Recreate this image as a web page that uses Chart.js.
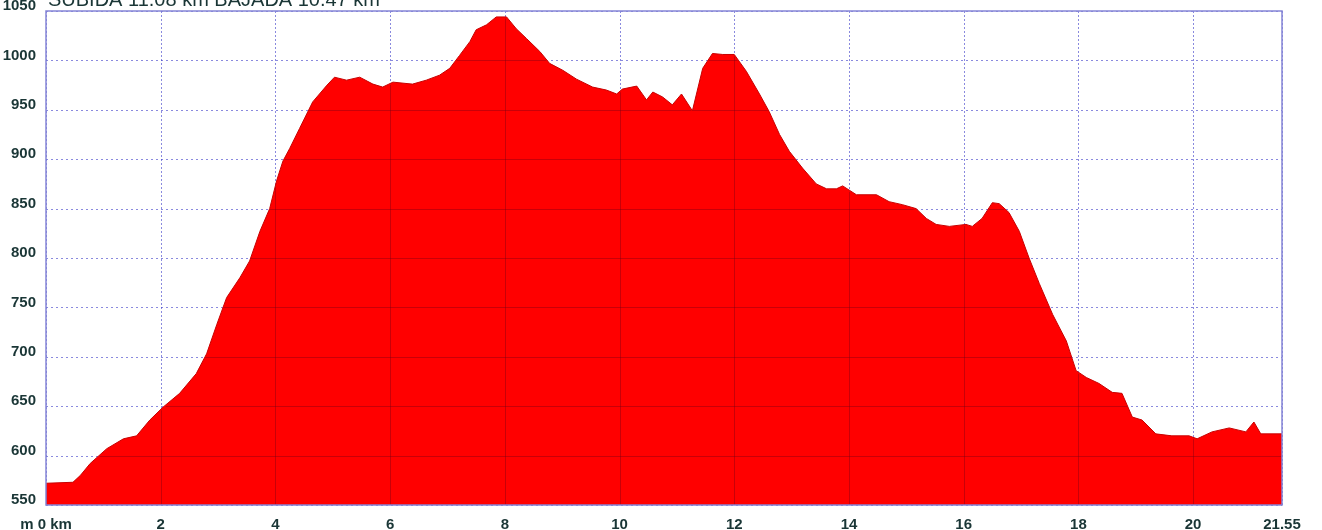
<!DOCTYPE html>
<html>
<head>
<meta charset="utf-8">
<title>Perfil</title>
<script src="https://cdn.jsdelivr.net/npm/chart.js@4.4.1/dist/chart.umd.min.js"></script>
<style>
  html, body { margin: 0; padding: 0; background: #fff; }
  #wrap { width: 1322px; height: 530px; position: relative; }
</style>
</head>
<body>
<div id="wrap"><canvas id="perfil"></canvas></div>
<script>
// distance (km) and altitude (m)
var distKm = [0, 0.47, 0.6, 0.77, 1.06, 1.35, 1.58, 1.81, 2.04, 2.33, 2.62, 2.8, 2.98, 3.15, 3.38, 3.55, 3.73, 3.9,
    4.02, 4.13, 4.25, 4.42, 4.65, 4.9, 5.03, 5.24, 5.47, 5.7, 5.87, 6.05, 6.39, 6.63, 6.86, 7.04, 7.21, 7.39, 7.5,
    7.68, 7.85, 8.03, 8.2, 8.38, 8.61, 8.78, 9.01, 9.25, 9.53, 9.77, 9.95, 10.05, 10.3, 10.47, 10.58, 10.75, 10.92,
    11.08, 11.27, 11.45, 11.62, 11.8, 12.0, 12.21, 12.44, 12.61, 12.79, 12.96, 13.19, 13.43, 13.61, 13.78, 13.89,
    14.13, 14.48, 14.7, 14.93, 15.17, 15.35, 15.52, 15.75, 16.04, 16.15, 16.32, 16.5, 16.62, 16.79, 16.97, 17.14,
    17.32, 17.55, 17.79, 17.96, 18.14, 18.36, 18.59, 18.76, 18.94, 19.11, 19.35, 19.63, 19.93, 20.07, 20.33, 20.63,
    20.92, 21.06, 21.18, 21.55];
var altitud = [572, 573, 580, 592, 607, 617, 620, 636, 649, 663, 683, 703, 733, 760, 780, 797, 827, 850,
    878, 898, 911, 931, 958, 975, 983, 980, 983, 976, 973, 978, 976, 980, 985, 992, 1005, 1019, 1031,
    1036, 1044, 1044, 1032, 1022, 1009, 997, 990, 981, 973, 970, 966, 971, 974, 960, 968, 963, 955,
    966, 949, 992, 1007, 1006, 1006, 989, 966, 948, 925, 908, 891, 875, 870, 870, 873,
    864, 864, 857, 854, 850, 840, 834, 832, 834, 832, 840, 856, 855, 846, 827, 800,
    774, 743, 716, 686, 679, 673, 664, 663, 639, 636, 622, 620, 620, 617, 624, 628,
    624, 634, 622, 622];

var xTicks = [0, 2, 4, 6, 8, 10, 12, 14, 16, 18, 20, 21.55];
var xTickLabels = ['m 0 km', '2', '4', '6', '8', '10', '12', '14', '16', '18', '20', '21.55'];
var yTicks = [550, 600, 650, 700, 750, 800, 850, 900, 950, 1000, 1050];
var titulo = 'SUBIDA 11.08 km BAJADA 10.47 km';

var textColor = '#1a3636';
var gridColor = 'rgba(60, 60, 200, 0.6)';
var gridEnRojo = 'rgba(120, 0, 20, 0.4)';
var fuente = '"Liberation Sans", Arial, sans-serif';

var puntos = distKm.map(function (d, i) { return { x: d, y: altitud[i] }; });

function trazarRejilla(ctx, chart, color, dashX, dashY) {
    var area = chart.chartArea;
    var sx = chart.scales.x;
    var sy = chart.scales.y;
    ctx.strokeStyle = color;
    ctx.lineWidth = 1;
    ctx.setLineDash(dashX);
    xTicks.forEach(function (v) {
        var px = Math.round(sx.getPixelForValue(v)) + 0.5;
        ctx.beginPath();
        ctx.moveTo(px, area.top);
        ctx.lineTo(px, area.bottom);
        ctx.stroke();
    });
    ctx.setLineDash(dashY);
    yTicks.forEach(function (v) {
        var py = Math.round(sy.getPixelForValue(v)) + 0.5;
        ctx.beginPath();
        ctx.moveTo(area.left, py);
        ctx.lineTo(area.right, py);
        ctx.stroke();
    });
}

// lavender grid on white; inside the red profile the lines show as dark red
var rejillaPlugin = {
    id: 'rejillaEncima',
    beforeDatasetsDraw: function (chart) {
        var ctx = chart.ctx;
        ctx.save();
        trazarRejilla(ctx, chart, gridColor, [2, 2], [2, 3]);
        ctx.restore();
    },
    afterDatasetsDraw: function (chart) {
        var ctx = chart.ctx;
        var area = chart.chartArea;
        var meta = chart.getDatasetMeta(0);
        ctx.save();
        ctx.beginPath();
        ctx.moveTo(area.left, area.bottom);
        meta.data.forEach(function (p) { ctx.lineTo(p.x, p.y + 1.5); });
        ctx.lineTo(area.right, area.bottom);
        ctx.closePath();
        ctx.clip();
        trazarRejilla(ctx, chart, gridEnRojo, [], []);
        ctx.restore();
    }
};

// frame round the plot, and the title half outside the top edge like the original
var tituloPlugin = {
    id: 'tituloPerfil',
    afterDraw: function (chart) {
        var ctx = chart.ctx;
        var area = chart.chartArea;
        ctx.save();
        ctx.strokeStyle = '#8585d6';
        ctx.lineWidth = 1.5;
        ctx.strokeRect(area.left, area.top, area.right - area.left, area.bottom - area.top);
        ctx.fillStyle = textColor;
        ctx.font = '20px ' + fuente;
        ctx.textBaseline = 'alphabetic';
        ctx.fillText(titulo, area.left + 2, 6);
        ctx.restore();
    }
};

var ctx = document.getElementById('perfil').getContext('2d');
var chart = new Chart(ctx, {
    type: 'line',
    data: {
        datasets: [{
            data: puntos,
            borderColor: '#c80000',
            borderWidth: 1,
            backgroundColor: '#ff0000',
            fill: 'start',
            pointRadius: 0,
            tension: 0
        }]
    },
    options: {
        responsive: true,
        maintainAspectRatio: false,
        animation: false,
        layout: { padding: { top: 10, right: 40, left: 0, bottom: 0 } },
        plugins: {
            legend: { display: false },
            tooltip: { enabled: false }
        },
        scales: {
            x: {
                type: 'linear',
                min: 0,
                max: 21.55,
                afterBuildTicks: function (scale) {
                    scale.ticks = xTicks.map(function (v) { return { value: v }; });
                },
                afterFit: function (scale) { scale.height = 25; },
                ticks: {
                    autoSkip: false,
                    maxRotation: 0,
                    padding: 3,
                    color: textColor,
                    font: { family: fuente, size: 15, weight: 'bold' },
                    callback: function (value) {
                        var i = xTicks.indexOf(value);
                        return i >= 0 ? xTickLabels[i] : '';
                    }
                },
                grid: { display: false },
                border: { display: false }
            },
            y: {
                min: 550,
                max: 1050,
                afterBuildTicks: function (scale) {
                    scale.ticks = yTicks.map(function (v) { return { value: v }; });
                },
                afterFit: function (scale) { scale.width = 46; },
                ticks: {
                    padding: 2,
                    labelOffset: -5,
                    color: textColor,
                    font: { family: fuente, size: 15, weight: 'bold' },
                    callback: function (value) { return String(value); }
                },
                grid: { display: false },
                border: { display: false }
            }
        }
    },
    plugins: [rejillaPlugin, tituloPlugin]
});
</script>
</body>
</html>
